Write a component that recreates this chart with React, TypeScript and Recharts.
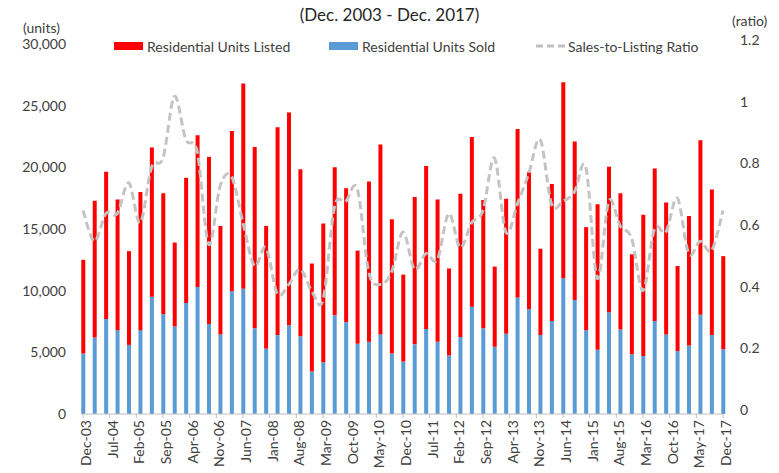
import React from 'react';
import { ComposedChart, Bar, Line, XAxis, YAxis, Legend } from 'recharts';

const quarters = [
  'Dec-03', 'Mar-04', 'Jun-04', 'Sep-04', 'Dec-04', 'Mar-05', 'Jun-05', 'Sep-05', 'Dec-05', 'Mar-06',
  'Jun-06', 'Sep-06', 'Dec-06', 'Mar-07', 'Jun-07', 'Sep-07', 'Dec-07', 'Mar-08', 'Jun-08', 'Sep-08',
  'Dec-08', 'Mar-09', 'Jun-09', 'Sep-09', 'Dec-09', 'Mar-10', 'Jun-10', 'Sep-10', 'Dec-10', 'Mar-11',
  'Jun-11', 'Sep-11', 'Dec-11', 'Mar-12', 'Jun-12', 'Sep-12', 'Dec-12', 'Mar-13', 'Jun-13', 'Sep-13',
  'Dec-13', 'Mar-14', 'Jun-14', 'Sep-14', 'Dec-14', 'Mar-15', 'Jun-15', 'Sep-15', 'Dec-15', 'Mar-16',
  'Jun-16', 'Sep-16', 'Dec-16', 'Mar-17', 'Jun-17', 'Sep-17', 'Dec-17',
];

const unitsSold = [
  4900, 6200, 7700, 6800, 5600, 6800, 9500, 8100, 7100, 9000,
  10300, 7300, 6450, 9950, 10150, 6950, 5300, 6400, 7200, 6300,
  3450, 4200, 8000, 7450, 5700, 5850, 6450, 4900, 4250, 5650,
  6900, 5850, 4750, 6250, 8700, 6950, 5450, 6500, 9450, 8500,
  6400, 7550, 11000, 9250, 6800, 5200, 8250, 6850, 4850, 4700,
  7550, 6450, 5100, 5550, 8050, 6400, 5250,
];

const unitsListed = [
  7600, 11100, 11950, 10600, 7600, 11200, 12100, 9800, 6800, 10150,
  12300, 13550, 8800, 13000, 16650, 14700, 9950, 16850, 17250, 13550,
  8750, 11250, 12000, 10850, 7550, 13000, 15400, 10900, 7050, 11950,
  13200, 11550, 7050, 11600, 13750, 10400, 6500, 10950, 13650, 11100,
  7000, 11100, 15900, 12850, 8350, 11800, 11800, 11050, 8100, 11450,
  12350, 10700, 6900, 10500, 14150, 11800, 7550,
];

const salesToListing = [
  0.66, 0.56, 0.65, 0.65, 0.75, 0.62, 0.80, 0.83, 1.03, 0.89,
  0.85, 0.55, 0.74, 0.77, 0.62, 0.48, 0.54, 0.39, 0.42, 0.47,
  0.40, 0.37, 0.67, 0.69, 0.73, 0.46, 0.42, 0.46, 0.59, 0.47,
  0.52, 0.50, 0.65, 0.54, 0.62, 0.66, 0.83, 0.59, 0.68, 0.78,
  0.89, 0.68, 0.69, 0.72, 0.80, 0.44, 0.69, 0.61, 0.57, 0.40,
  0.60, 0.59, 0.70, 0.52, 0.56, 0.53, 0.66,
];

const tickLabels = [
  'Dec-03', 'Jul-04', 'Feb-05', 'Sep-05', 'Apr-06', 'Nov-06', 'Jun-07', 'Jan-08', 'Aug-08', 'Mar-09',
  'Oct-09', 'May-10', 'Dec-10', 'Jul-11', 'Feb-12', 'Sep-12', 'Apr-13', 'Nov-13', 'Jun-14', 'Jan-15',
  'Aug-15', 'Mar-16', 'Oct-16', 'May-17', 'Dec-17',
];

const leftTicks = [0, 5000, 10000, 15000, 20000, 25000, 30000];
const rightTicks = [0, 0.2, 0.4, 0.6, 0.8, 1, 1.2];

const MONTHS_PER_QUARTER = 3;
const MONTHS_PER_TICK = 7;

const data = quarters.map((q, i) => ({
  m: i * MONTHS_PER_QUARTER,
  label: q,
  sold: unitsSold[i],
  listed: unitsListed[i],
  ratio: salesToListing[i],
}));

const xTicks = tickLabels.map((_, i) => i * MONTHS_PER_TICK);

const FONT = 'Lato, "Liberation Sans", sans-serif';
const TEXT = '#404040';

// Excel-like smoothed line (Catmull-Rom through the points)
const smoothCurve = (context: any) => {
  let pts: number[][] = [];
  return {
    areaStart() {},
    areaEnd() {},
    lineStart() {
      pts = [];
    },
    point(x: number, y: number) {
      pts.push([+x, +y]);
    },
    lineEnd() {
      const n = pts.length;
      if (!n) return;
      context.moveTo(pts[0][0], pts[0][1]);
      for (let i = 0; i < n - 1; i++) {
        const p0 = pts[Math.max(0, i - 1)];
        const p1 = pts[i];
        const p2 = pts[i + 1];
        const p3 = pts[Math.min(n - 1, i + 2)];
        context.bezierCurveTo(
          p1[0] + (p2[0] - p0[0]) / 6,
          p1[1] + (p2[1] - p0[1]) / 6,
          p2[0] - (p3[0] - p1[0]) / 6,
          p2[1] - (p3[1] - p1[1]) / 6,
          p2[0],
          p2[1]
        );
      }
    },
  };
};

const XTick = (props: any) => {
  const { x, y, payload } = props;
  const idx = Math.round(payload.value / MONTHS_PER_TICK);
  const tx = x + 8;
  return (
    <text
      x={tx}
      y={y}
      transform={`rotate(-90 ${tx} ${y})`}
      textAnchor="end"
      fontSize={14}
      fontFamily={FONT}
      fill={TEXT}
    >
      {tickLabels[idx]}
    </text>
  );
};

const LeftTick = (props: any) => {
  const { x, y, payload } = props;
  return (
    <text x={x} y={y} dy="0.35em" textAnchor="end" fontSize={14} fontFamily={FONT} fill={TEXT}>
      {payload.value.toLocaleString('en-US')}
    </text>
  );
};

const RightTick = (props: any) => {
  const { x, y, payload } = props;
  return (
    <text x={x} y={y - 4} dy="0.35em" textAnchor="start" fontSize={14} fontFamily={FONT} fill={TEXT}>
      {String(Math.round(payload.value * 10) / 10)}
    </text>
  );
};

const legendItems = [
  { name: 'Residential Units Listed', kind: 'bar', color: '#FF0000', left: 114 },
  { name: 'Residential Units Sold', kind: 'bar', color: '#5B9BD5', left: 329 },
  { name: 'Sales-to-Listing Ratio', kind: 'line', color: '#BFBFBF', left: 536 },
];

const renderLegend = () => (
  <div style={{ position: 'relative', width: 779, height: 20, fontFamily: FONT, fontSize: 14, color: TEXT }}>
    {legendItems.map((it) => (
      <div
        key={it.name}
        style={{ position: 'absolute', left: it.left, top: 0, height: 20, display: 'flex', alignItems: 'center', whiteSpace: 'nowrap' }}
      >
        {it.kind === 'bar' ? (
          <div style={{ width: 29, height: 8, background: it.color, marginRight: 4 }} />
        ) : (
          <svg width={29} height={8} style={{ marginRight: 3 }}>
            <line x1={0} y1={4} x2={29} y2={4} stroke={it.color} strokeWidth={3} strokeDasharray="7 4" />
          </svg>
        )}
        <span>{it.name}</span>
      </div>
    ))}
  </div>
);

export default function App() {
  return (
    <div style={{ position: 'absolute', left: 0, top: 0, width: 779, height: 473, background: '#fff', fontFamily: FONT }}>
      <div style={{ position: 'absolute', left: 0, width: 779, top: 4, textAlign: 'center', fontSize: 17, color: '#262626' }}>
        (Dec. 2003 - Dec. 2017)
      </div>
      <div style={{ position: 'absolute', left: 23, top: 19, fontSize: 14, color: TEXT }}>(units)</div>
      <div style={{ position: 'absolute', left: 732, top: 13, fontSize: 14, color: TEXT, lineHeight: '16px' }}>(ratio)</div>
      <ComposedChart
        width={779}
        height={473}
        data={data}
        margin={{ top: 44, right: 0, bottom: 0, left: 0 }}
        barGap={0}
      >
        <XAxis
          dataKey="m"
          type="number"
          domain={[0, 168]}
          ticks={xTicks}
          interval={0}
          height={59}
          stroke="#BFBFBF"
          tickSize={4}
          tickMargin={2}
          tick={<XTick />}
        />
        <YAxis
          yAxisId="l"
          width={83}
          domain={[0, 30000]}
          ticks={leftTicks}
          interval={0}
          axisLine={false}
          tickLine={false}
          tickSize={0}
          tickMargin={17}
          tick={<LeftTick />}
        />
        <YAxis
          yAxisId="r"
          orientation="right"
          width={56}
          domain={[0, 1.2]}
          ticks={rightTicks}
          interval={0}
          axisLine={false}
          tickLine={false}
          tickSize={0}
          tickMargin={17}
          tick={<RightTick />}
        />
        <Legend
          verticalAlign="middle"
          align="center"
          content={renderLegend}
          wrapperStyle={{ left: 0, top: 36, width: 779 }}
        />
        <Bar yAxisId="l" dataKey="sold" stackId="a" fill="#5B9BD5" barSize={4} isAnimationActive={false} />
        <Bar yAxisId="l" dataKey="listed" stackId="a" fill="#FF0000" barSize={4} isAnimationActive={false} />
        <Line
          yAxisId="r"
          dataKey="ratio"
          type={smoothCurve as any}
          stroke="#C4C4C4"
          strokeWidth={3}
          strokeDasharray="8 4"
          dot={false}
          activeDot={false}
          isAnimationActive={false}
        />
      </ComposedChart>
    </div>
  );
}
